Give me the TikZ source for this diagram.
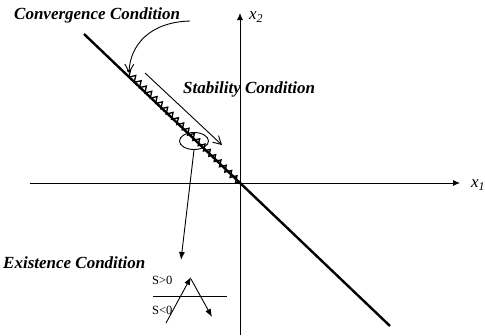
\documentclass[tikz,border=0pt]{standalone}
\usepackage{fontspec}
\setmainfont{Liberation Serif}
\usetikzlibrary{arrows.meta,decorations.pathmorphing,shapes.geometric}
\begin{document}
\begin{tikzpicture}[x=1pt,y=-1pt,
  lbl/.style={font=\fontsize{17}{19}\selectfont\bfseries\itshape, inner sep=0pt},
  axlbl/.style={font=\fontsize{17}{19}\selectfont\itshape, inner sep=0pt},
  stxt/.style={font=\fontsize{12.5}{15}\selectfont, inner sep=0pt},
  axis/.style={line width=0.9pt, -{Latex[length=7pt,width=6pt]}},
  openarr/.style={line width=0.9pt, -{Straight Barb[length=8pt,width=9pt,line width=0.9pt]}},
  fillarr/.style={line width=0.9pt, -{Latex[length=8pt,width=6pt]}}]
\useasboundingbox (0,0) rectangle (485,335);
% coordinates
\coordinate (xl) at (30,183);
\coordinate (xr) at (460,183);
\coordinate (yb) at (240,335);
\coordinate (yt) at (240,13);
\coordinate (ls) at (84,34);
\coordinate (le) at (390,326);
\coordinate (zs) at (127,71);
\coordinate (ze) at (239,182);
\coordinate (cs) at (190,21);
\coordinate (ct) at (129,73);
\coordinate (ss) at (145,73);
\coordinate (st) at (222,145);
\coordinate (et) at (181,260);
\coordinate (hl) at (153,296);
\coordinate (hr) at (227,296);
\coordinate (ua) at (166,323);
\coordinate (ub) at (191,277);
\coordinate (da) at (191,279);
\coordinate (db) at (212,317);
% axes
\draw[axis] (xl) -- (xr);
\draw[axis] (yb) -- (yt);
\node[axlbl, anchor=west] (x1) at (471,185) {x\textsubscript{1}};
\node[axlbl, anchor=west] (x2) at (249,17) {x\textsubscript{2}};
% sliding line
\draw[line width=2.4pt] (ls) -- (le);
\draw[line width=1.3pt, decorate, decoration={zigzag, segment length=7.5pt, amplitude=3pt}] (zs) -- (ze);
% labels
\node[lbl, anchor=west] (conv) at (14,15) {Convergence Condition};
\node[lbl, anchor=west] (stab) at (183,89) {Stability Condition};
\node[lbl, anchor=west] (exist) at (3,263) {Existence Condition};
% convergence arrow
\draw[openarr] (cs) .. controls (150,22) and (130,45) .. (ct);
% stability arrow
\draw[openarr] (ss) -- (st);
% ellipse
\node[ellipse, draw, line width=0.9pt, minimum width=29pt, minimum height=17pt, inner sep=0pt] (circ) at (194,141) {};
\draw[fillarr] (circ.south) -- (et);
% existence detail
\draw[line width=0.8pt] (hl) -- (hr);
\node[stxt, anchor=west] (sp) at (152,280) {S>0};
\node[stxt, anchor=west] (sn) at (152,310) {S<0};
\draw[fillarr] (ua) -- (ub);
\draw[fillarr] (da) -- (db);
\end{tikzpicture}
\end{document}
